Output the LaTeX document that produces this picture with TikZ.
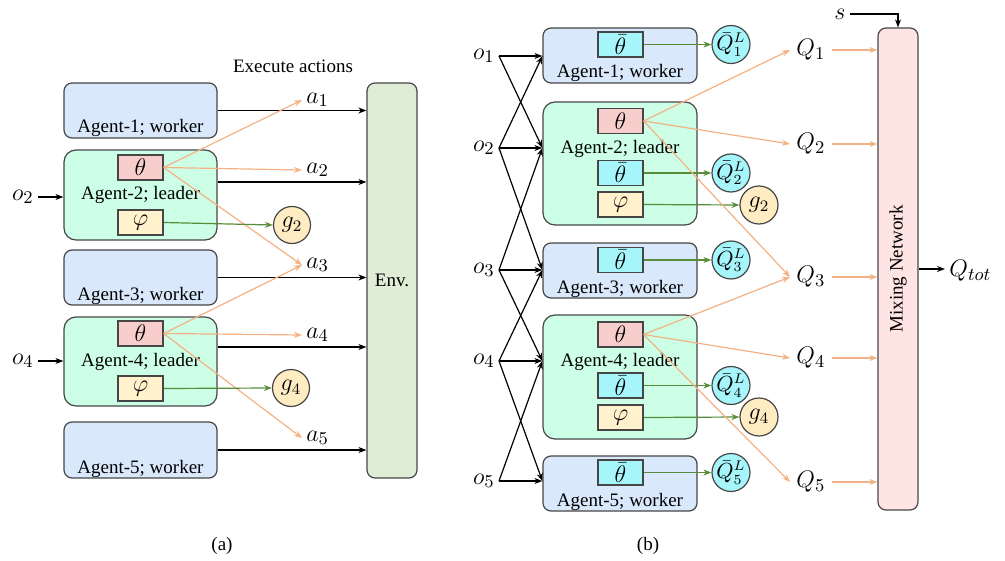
\documentclass[tikz,border=0pt]{standalone}
\usepackage{fontspec}
\setmainfont{Liberation Serif}
\usetikzlibrary{arrows.meta,positioning}

\definecolor{edgegray}{RGB}{70,70,70}
\definecolor{workerblue}{RGB}{218,232,252}
\definecolor{leadergreen}{RGB}{204,255,230}
\definecolor{thetared}{RGB}{248,206,204}
\definecolor{phiyellow}{RGB}{255,242,204}
\definecolor{gyellow}{RGB}{255,236,194}
\definecolor{qcyan}{RGB}{165,245,250}
\definecolor{envgreen}{RGB}{224,237,214}
\definecolor{mixpink}{RGB}{255,228,228}
\definecolor{orangeline}{RGB}{244,177,131}
\definecolor{greenline}{RGB}{88,140,58}

\tikzset{
  agentbox/.style = {draw=edgegray, line width=0.6pt, minimum width=76.5pt},
  worker/.style   = {agentbox, fill=workerblue, rounded corners=4pt, minimum height=27.5pt},
  leader/.style   = {agentbox, fill=leadergreen, rounded corners=6pt},
  parbox/.style   = {draw=edgegray, line width=0.6pt, minimum width=22.5pt, minimum height=12.5pt,
                     inner sep=0pt, font=\fontsize{12.5}{14}\selectfont},
  thetabox/.style = {parbox, fill=thetared},
  phibox/.style   = {parbox, fill=phiyellow},
  tbarbox/.style  = {parbox, fill=qcyan},
  circ/.style     = {circle, draw=edgegray, line width=0.6pt, minimum size=18.5pt, inner sep=0pt,
                     font=\fontsize{12}{14}\selectfont},
  qcirc/.style    = {circ, fill=qcyan, minimum size=19pt, font=\fontsize{10.5}{12}\selectfont},
  agtext/.style   = {font=\fontsize{9.5}{11}\selectfont, inner sep=0pt},
  lab/.style      = {font=\fontsize{13}{15}\selectfont, inner sep=2pt},
  act/.style      = {-{Stealth[length=4pt,width=3pt]}, line width=0.6pt},
  orng/.style     = {act, draw=orangeline},
  grn/.style      = {act, draw=greenline},
}

\begin{document}
\begin{tikzpicture}[x=0.5pt, y=-0.5pt]
\useasboundingbox (0,0) rectangle (1005,561);

% (a) execution
\node[worker] (a1) at (140.5,110.5) {};
\node[leader, minimum height=45pt] (a2) at (140.5,195) {};
\node[worker] (a3) at (140.5,277.5) {};
\node[leader, minimum height=44.5pt] (a4) at (140.5,361.5) {};
\node[worker, minimum height=28pt] (a5) at (140.5,450) {};
\foreach \i in {1,3,5}
   \node[agtext, anchor=base, yshift=2.8pt] at (a\i.south) {Agent-\i; worker};
\foreach \i in {2,4}
   \node[agtext] at (a\i) {Agent-\i; leader};

\node[thetabox] (th2) at (140.5,167.5) {$\theta$};
\node[phibox]   (ph2) at (140.5,222.5) {$\varphi$};
\node[thetabox] (th4) at (140.5,333.5) {$\theta$};
\node[phibox]   (ph4) at (140.5,388.5) {$\varphi$};

\node[draw=edgegray, fill=envgreen, line width=0.6pt, rounded corners=4pt, minimum width=25pt,
      minimum height=197.5pt, agtext] (env) at (392,280.5) {Env.};
\node[agtext] (exec) at (293,66) {Execute actions};

\foreach \i/\y in {1/100,2/170,3/265,4/335,5/438}
   \node[lab, anchor=west] (act\i) at (302,\y) {$a_{\i}$};

\foreach \i/\d in {1/0,2/6.5,3/0,4/7.25,5/0}{
   \coordinate (out\i) at ([yshift=\d pt]a\i.east);
   \draw[act] (out\i) -- (out\i -| env.west);
   }

\foreach \j in {1,2,3}
   \draw[orng] (th2.east) -- (act\j.west);
\foreach \j in {3,4,5}
   \draw[orng] (th4.east) -- (act\j.west);

\node[circ, fill=gyellow] (g2) at (292,225) {$g_2$};
\node[circ, fill=gyellow] (g4) at (291,388) {$g_4$};
\draw[grn] (ph2.east) -- (g2.west);
\draw[grn] (ph4.east) -- (g4.west);

\node[lab, anchor=east] (o2) at (38,197) {$o_2$};
\node[lab, anchor=east] (o4) at (38,361) {$o_4$};
\draw[act] (o2.east) -- (o2.east -| a2.west);
\draw[act] (o4.east) -- (o4.east -| a4.west);

\node[agtext] (capa) at (222,546) {(a)};

% (b) training
\node[worker, minimum width=77pt] (b1) at (620,55.5) {};
\node[leader, minimum width=77pt, minimum height=61.5pt] (b2) at (620,163.5) {};
\node[worker, minimum width=77pt] (b3) at (620,270.5) {};
\node[leader, minimum width=77pt, minimum height=62pt] (b4) at (620,377) {};
\node[worker, minimum width=77pt] (b5) at (620,483.5) {};
\foreach \i in {1,3,5}
   \node[agtext, anchor=base, yshift=2.8pt] at (b\i.south) {Agent-\i; worker};
\node[agtext] at (620,149) {Agent-2; leader};
\node[agtext] at (620,362) {Agent-4; leader};

\foreach \i/\y in {1/44.5,2/173,3/260,4/385.5,5/472.5}{
   \node[tbarbox] (tb\i) at (620.5,\y) {$\bar{\theta}$};
   \node[qcirc] (qb\i) at (731,\y) {$\bar{Q}^{L}_{\i}$};
   \draw[grn] (tb\i.east) -- (qb\i.west);
   }

\node[thetabox] (tc2) at (620.5,121) {$\theta$};
\node[phibox]   (pc2) at (620.5,204.5) {$\varphi$};
\node[thetabox] (tc4) at (620.5,334.5) {$\theta$};
\node[phibox]   (pc4) at (620.5,417.5) {$\varphi$};
\node[circ, fill=gyellow, minimum size=19pt] (gb2) at (759,205) {$g_2$};
\node[circ, fill=gyellow, minimum size=19pt] (gb4) at (759,417) {$g_4$};
\draw[grn] (pc2.east) -- (gb2.west);
\draw[grn] (pc4.east) -- (gb4.west);

\foreach \i/\y in {1/56,2/148,3/270,4/361,5/481}
   \node[lab, anchor=east] (ob\i) at (499,\y) {$o_{\i}$};
\foreach \i/\j in {1/1,1/2,2/1,2/2,2/3,3/2,3/3,3/4,4/3,4/4,4/5,5/4,5/5}
   \draw[act] (ob\i.east) -- (b\j.west |- ob\j.east);

\node[draw=edgegray, fill=mixpink, line width=0.6pt, rounded corners=4pt, minimum width=20pt,
      minimum height=241pt] (mix) at (898,269) {};
\node[agtext, rotate=90] at (mix) {Mixing Network};

\foreach \i/\y in {1/50,2/144,3/277,4/358,5/482}{
   \node[lab, anchor=west, inner sep=3pt] (q\i) at (790,\y) {$Q_{\i}$};
   \draw[orng] (q\i.east) -- (q\i.east -| mix.west);
   }
\foreach \j in {1,2,3}
   \draw[orng] (tc2.east) -- (q\j.west);
\foreach \j in {3,4,5}
   \draw[orng] (tc4.east) -- (q\j.west);

\node[lab] (s) at (840,14) {$s$};
\draw[act] (s.east) -| (mix.north);
\node[lab, anchor=west] (qtot) at (945,271) {$Q_{tot}$};
\draw[act] (mix.east) -- (mix.east -| qtot.west);

\node[agtext] (capb) at (648,546) {(b)};
\end{tikzpicture}
\end{document}
